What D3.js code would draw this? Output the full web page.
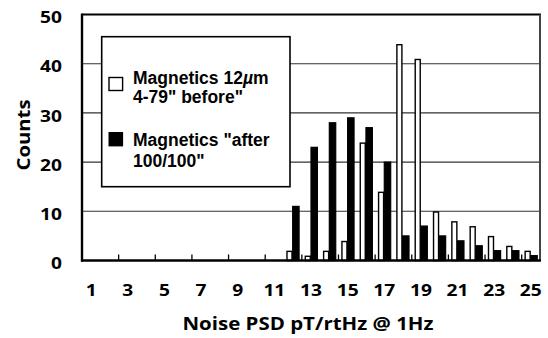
<!DOCTYPE html>
<html>
<head>
<meta charset="utf-8">
<script src="https://cdn.jsdelivr.net/npm/d3@7"></script>
<style>
  body { margin: 0; background: #fff; }
  svg { display: block; }
</style>
</head>
<body>
<script>
// Noise PSD histogram: counts per 1 pT/rtHz bin, before and after treatment
const categories = ["1","2","3","4","5","6","7","8","9","10","11","12","13",
                    "14","15","16","17","18","19","20","21","22","23","24","25"];
const beforeCounts = [0,0,0,0,0,0,0,0,0,0,0,2,1,2,4,24,14,44,41,10,8,7,5,3,2];
const afterCounts  = [0,0,0,0,0,0,0,0,0,0,0,11,23,28,29,27,20,5,7,5,4,3,2,2,1];
const seriesKeys = ["before", "after"];
const yTicks = [0, 10, 20, 30, 40, 50];
const xTickLabels = ["1","3","5","7","9","11","13","15","17","19","21","23","25"];
const xTitle = "Noise PSD pT/rtHz @ 1Hz";
const yTitle = "Counts";

const W = 548, H = 338;
const plot = { left: 82, right: 540, top: 14.5, bottom: 260.5 };
const axisFont = "'Open Sans', 'Noto Sans', sans-serif";
const legendFont = "'Liberation Sans', Arial, sans-serif";

const svg = d3.select("body").append("svg")
  .attr("width", W).attr("height", H);

const x = d3.scaleBand().domain(categories)
  .range([plot.left, plot.right]).padding(0);
const xs = d3.scaleBand().domain(seriesKeys)
  .range([0, x.bandwidth()]).paddingInner(0).paddingOuter(0.43);
const y = d3.scaleLinear().domain([0, 50]).range([plot.bottom, plot.top]);

// horizontal gridlines
svg.append("g").selectAll("line")
  .data(yTicks.filter(v => v > 0 && v < 50))
  .join("line")
  .attr("x1", plot.left).attr("x2", plot.right)
  .attr("y1", d => y(d)).attr("y2", d => y(d))
  .attr("stroke", "#333").attr("stroke-width", 1.1);

// bars
const rows = categories.map((c, i) => ({ c, before: beforeCounts[i], after: afterCounts[i] }));
const bw = xs.bandwidth();

svg.append("g").selectAll("rect")
  .data(rows.filter(d => d.before > 0))
  .join("rect")
  .attr("x", d => x(d.c) + xs("before") + 0.7)
  .attr("y", d => y(d.before) + 0.7)
  .attr("width", bw - 1.4)
  .attr("height", d => y(0) - y(d.before) - 0.7)
  .attr("fill", "#fff").attr("stroke", "#000").attr("stroke-width", 1.4);

svg.append("g").selectAll("rect")
  .data(rows.filter(d => d.after > 0))
  .join("rect")
  .attr("x", d => x(d.c) + xs("after"))
  .attr("y", d => y(d.after))
  .attr("width", bw)
  .attr("height", d => y(0) - y(d.after))
  .attr("fill", "#000").attr("stroke", "#000").attr("stroke-width", 1.2);

// plot frame
svg.append("line").attr("x1", plot.left).attr("x2", plot.right + 1)
  .attr("y1", plot.top).attr("y2", plot.top)
  .attr("stroke", "#000").attr("stroke-width", 2);
svg.append("line").attr("x1", plot.right).attr("x2", plot.right)
  .attr("y1", plot.top).attr("y2", plot.bottom)
  .attr("stroke", "#444").attr("stroke-width", 2);

// inward tick marks on category boundaries (every second bin)
svg.append("g").selectAll("line")
  .data(categories.filter((c, i) => i > 0 && i % 2 === 0))
  .join("line")
  .attr("x1", d => x(d)).attr("x2", d => x(d))
  .attr("y1", plot.bottom - 6).attr("y2", plot.bottom)
  .attr("stroke", "#000").attr("stroke-width", 1.3);

// axes lines
svg.append("line").attr("x1", plot.left).attr("x2", plot.left)
  .attr("y1", plot.top - 1).attr("y2", plot.bottom + 1.2)
  .attr("stroke", "#000").attr("stroke-width", 2.4);
svg.append("line").attr("x1", plot.left - 1).attr("x2", plot.right + 1)
  .attr("y1", plot.bottom).attr("y2", plot.bottom)
  .attr("stroke", "#000").attr("stroke-width", 2.4);

// text drawn slightly widened, as in the chart's original typography
function wideText(px, py, str, size, sx, anchor, rot = 0) {
  const g = svg.append("g")
    .attr("transform", `translate(${px},${py}) rotate(${rot}) scale(${sx},1)`);
  g.append("text")
    .attr("text-anchor", anchor)
    .attr("font-family", axisFont).attr("font-weight", 700)
    .attr("font-size", size).attr("fill", "#000")
    .text(str);
}

yTicks.forEach(v => wideText(62, y(v) + 8.7, String(v), 16, 1.2, "end"));
xTickLabels.forEach(lbl => wideText(x(lbl) + x.bandwidth() / 2, 295.5, lbl, 16, 1.2, "middle"));
wideText(308, 329.5, xTitle, 18.6, 1.1, "middle");
wideText(29.5, 135, yTitle, 18.6, 1.09, "middle", -90);

// legend
const lg = svg.append("g");
lg.append("rect").attr("x", 101.7).attr("y", 36.7).attr("width", 188.3).attr("height", 150)
  .attr("fill", "#fff").attr("stroke", "#000").attr("stroke-width", 1.6);
lg.append("rect").attr("x", 109).attr("y", 77.5).attr("width", 13.6).attr("height", 13)
  .attr("fill", "#fff").attr("stroke", "#000").attr("stroke-width", 1.4);
lg.append("rect").attr("x", 108.5).attr("y", 132).attr("width", 14.6).attr("height", 14.4)
  .attr("fill", "#000");

function legendLine(py, parts) {
  const t = lg.append("text").attr("x", 133).attr("y", py)
    .attr("font-family", legendFont).attr("font-weight", 700)
    .attr("font-size", 17.5).attr("fill", "#000");
  parts.forEach(p => {
    const s = t.append("tspan").text(p.s);
    if (p.italic) s.attr("font-style", "italic");
  });
}
legendLine(84.3, [{ s: "Magnetics 12" }, { s: "\u00b5", italic: true }, { s: "m" }]);
legendLine(103.3, [{ s: "4-79\" before\"" }]);
legendLine(145.7, [{ s: "Magnetics \"after" }]);
legendLine(166.7, [{ s: "100/100\"" }]);
</script>
</body>
</html>
